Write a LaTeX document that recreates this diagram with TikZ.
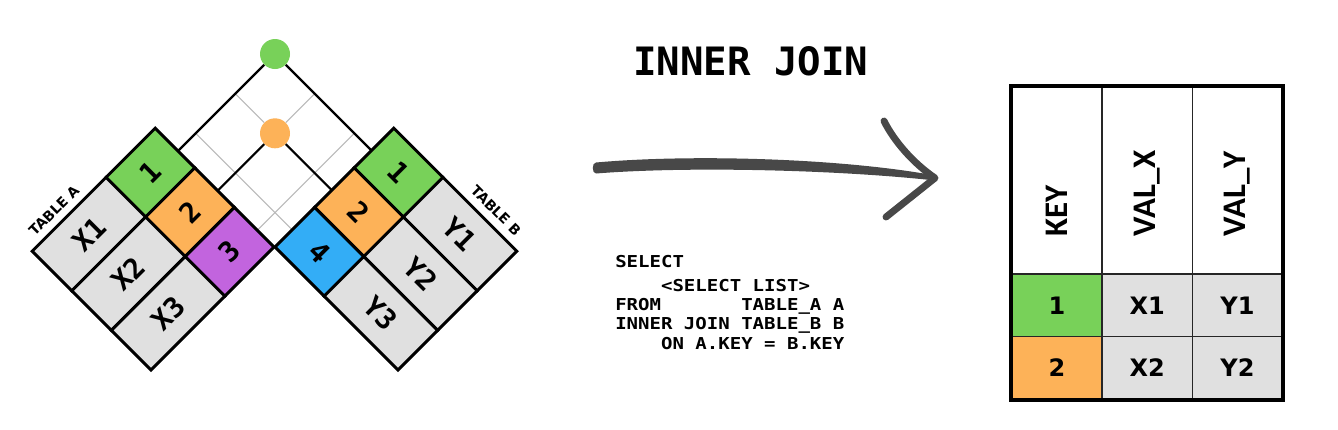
\documentclass[tikz,border=0pt]{standalone}
\usepackage{fontspec}
\newfontfamily\codefont{DejaVu Sans Mono}
\newfontfamily\sqlfont{DejaVu Sans Mono}[FakeStretch=1.16]
\newfontfamily\labelfont{DejaVu Sans}
\newfontfamily\headfont{Carlito}
\definecolor{keygreen}{RGB}{120,209,89}
\definecolor{keyorange}{RGB}{253,178,88}
\definecolor{keypurple}{RGB}{194,100,222}
\definecolor{keyblue}{RGB}{51,173,246}
\definecolor{cellgray}{RGB}{224,224,224}
\definecolor{gridgray}{RGB}{185,185,185}
\definecolor{arrowgray}{RGB}{72,72,72}
\usetikzlibrary{calc}

\begin{document}
\begin{tikzpicture}[x=0.75pt,y=-0.75pt,
  cellbox/.style={draw,line width=2.2pt,inner sep=0pt,minimum height=42pt,
    font=\codefont\bfseries\fontsize{21}{21}\selectfont},
  keycell/.style={cellbox,minimum width=52.2pt},
  valcell/.style={cellbox,minimum width=78.3pt,fill=cellgray},
  tablbl/.style={inner sep=0pt,font=\labelfont\bfseries\fontsize{10.5}{10.5}\selectfont},
  dot/.style={circle,inner sep=0pt,minimum size=22.5pt},
  gridln/.style={gridgray,line width=0.8pt},
  matchln/.style={black,line width=1.6pt},
  hdcell/.style={draw=black!85,line width=1pt,minimum width=67.75pt,minimum height=140.5pt,inner sep=0pt},
  hdtext/.style={rotate=90,anchor=west,inner sep=0pt,font=\headfont\bfseries\fontsize{24.7}{25}\selectfont},
  bodycell/.style={draw=black!85,line width=1pt,minimum width=67.75pt,minimum height=47pt,inner sep=0pt,
    font=\labelfont\bfseries\fontsize{18}{18}\selectfont},
  handstroke/.style={arrowgray,line width=5.2pt,line cap=round,line join=round}]
  \useasboundingbox[fill=white] (0,0) rectangle (1338,429);

  % Key grid between the two tables
  \coordinate (g10) at (314.65,93.65);
  \coordinate (g01) at (235.35,93.65);
  \coordinate (g20) at (354.3,133.3);
  \coordinate (g02) at (195.7,133.3);
  \coordinate (ea1) at (178,151);
  \coordinate (ea2) at (217.65,190.65);
  \coordinate (ea3) at (257.3,230.3);
  \coordinate (eb1) at (372,151);
  \coordinate (eb2) at (332.35,190.65);
  \coordinate (eb3) at (292.7,230.3);
  \node[dot,fill=keygreen] (m1) at (275,54) {};
  \node[dot,fill=keyorange] (m2) at (275,133.3) {};
  \draw[gridln] (g10) -- (m2); \draw[gridln] (g01) -- (m2);
  \draw[gridln] (g20) -- (ea3); \draw[gridln] (g02) -- (eb3);
  \draw[matchln] (m1) -- (ea1); \draw[matchln] (m1) -- (eb1);
  \draw[matchln] (m2) -- (ea2); \draw[matchln] (m2) -- (eb2);

  % Table A
  \node[keycell,fill=keygreen,rotate=45] (ka1) at (150.4,172.6) {1};
  \node[keycell,fill=keyorange,rotate=45] (ka2) at (190.0,212.2) {2};
  \node[keycell,fill=keypurple,rotate=45] (ka3) at (229.6,251.8) {3};
  \node[valcell,rotate=45] (va1) at (88.9,234.1) {X1};
  \node[valcell,rotate=45] (va2) at (128.5,273.7) {X2};
  \node[valcell,rotate=45] (va3) at (168.1,313.3) {X3};
  \node[tablbl,rotate=45] (ta) at (54,210.5) {TABLE A};

  % Table B
  \node[keycell,fill=keygreen,rotate=-45] (kb1) at (398.6,172.6) {1};
  \node[keycell,fill=keyorange,rotate=-45] (kb2) at (359.0,212.2) {2};
  \node[keycell,fill=keyblue,rotate=-45] (kb3) at (319.4,251.8) {4};
  \node[valcell,rotate=-45] (vb1) at (460.1,234.1) {Y1};
  \node[valcell,rotate=-45] (vb2) at (420.5,273.7) {Y2};
  \node[valcell,rotate=-45] (vb3) at (380.9,313.3) {Y3};
  \node[tablbl,rotate=-45] (tb) at (496,210.5) {TABLE B};

  % Title and query
  \node[font=\codefont\bfseries\fontsize{29.3}{30}\selectfont] (title) at (750.8,61.7) {INNER JOIN};
  \node[anchor=north west,align=left,inner sep=0pt,
    font=\sqlfont\bfseries\fontsize{12.3}{14.3}\selectfont] (sql) at (615,255)
    {SELECT\\[4pt]
     \hphantom{xxxx}<SELECT LIST>\\
     FROM\hphantom{xxxxxxx}TABLE\_A A\\
     INNER JOIN TABLE\_B B\\
     \hphantom{xxxx}ON A.KEY = B.KEY};

  % Hand drawn arrow
  \coordinate (arrtail) at (596,168);
  \coordinate (arrtip) at (935,178);
  \coordinate (barbup) at (884,121);
  \coordinate (barblo) at (886,217);
  \fill[arrowgray] ($(arrtail)+(0,-5.5)$) .. controls (690,154) and (840,158) .. ($(arrtip)+(0,-2.5)$)
    -- ($(arrtip)+(0,2.5)$) .. controls (840,170) and (690,166) .. ($(arrtail)+(0,5.5)$)
    to[out=180,in=180] cycle;
  \draw[handstroke] (barbup) .. controls (894,141) and (913,163) .. (arrtip) -- (barblo);

  % Result table
  \node[hdcell] (h1) at (1056.85,180.35) {};
  \node[hdcell] (h2) at (1147.15,180.35) {};
  \node[hdcell] (h3) at (1237.5,180.35) {};
  \node[hdtext] at ([yshift=28.5pt]h1.south) {KEY};
  \node[hdtext] at ([yshift=28.5pt]h2.south) {VAL\_X};
  \node[hdtext] at ([yshift=28.5pt]h3.south) {VAL\_Y};
  \node[bodycell,fill=keygreen] (k1) at (1056.85,305.35) {1};
  \node[bodycell,fill=cellgray] (x1) at (1147.15,305.35) {X1};
  \node[bodycell,fill=cellgray] (y1) at (1237.5,305.35) {Y1};
  \node[bodycell,fill=keyorange] (k2) at (1056.85,368) {2};
  \node[bodycell,fill=cellgray] (x2) at (1147.15,368) {X2};
  \node[bodycell,fill=cellgray] (y2) at (1237.5,368) {Y2};
  \draw[line width=3pt] (h1.north west) rectangle (y2.south east);
\end{tikzpicture}
\end{document}
